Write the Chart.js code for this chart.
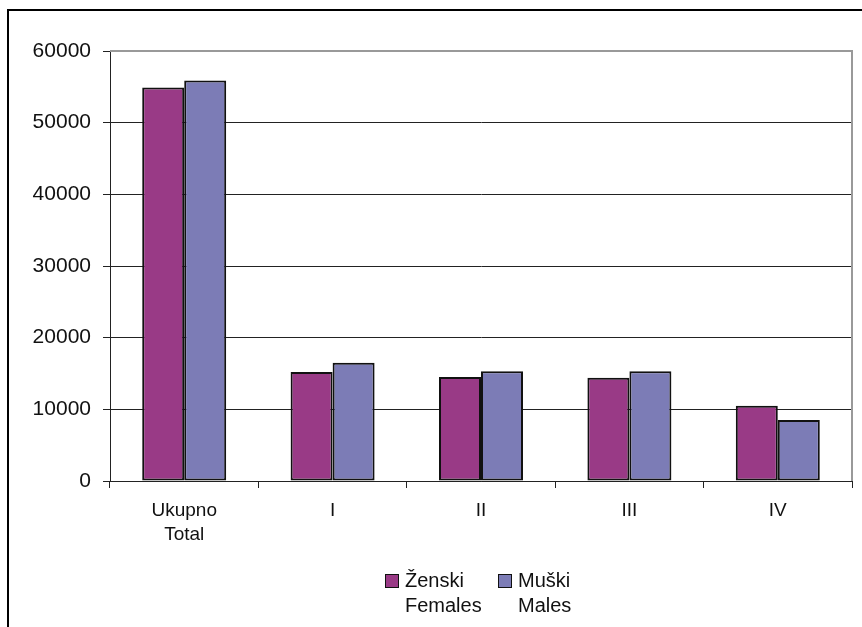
<!DOCTYPE html>
<html>
<head>
<meta charset="utf-8">
<script src="https://cdn.jsdelivr.net/npm/chart.js@4/dist/chart.umd.min.js"></script>
<style>
  html, body { margin: 0; padding: 0; background: #fff; }
  #wrap { position: relative; width: 862px; height: 627px; overflow: hidden; font-family: "Liberation Sans", Arial, sans-serif; }
  #frame { position: absolute; left: 7px; top: 9px; width: 860px; height: 700px; border-top: 2px solid #000; border-left: 2px solid #000; pointer-events: none; }
  canvas { position: absolute; left: 0; top: 0; }
  .leg { position: absolute; font-size: 20px; line-height: 25px; color: #111; }
  .sw { position: absolute; width: 12px; height: 12px; border: 1.5px solid #111; }
</style>
</head>
<body>
<div id="wrap">
  <canvas id="c" width="862" height="627"></canvas>
  <div id="frame"></div>
  <div id="legend"></div>
</div>
<script>
const categories = [["Ukupno", "Total"], "I", "II", "III", "IV"];
const femaleValues = [54900, 15200, 14500, 14400, 10500];
const maleValues = [55900, 16500, 15300, 15300, 8500];
const seriesNames = [["Ženski", "Females"], ["Muški", "Males"]];
const seriesColors = ["#993A86", "#7C7CB6"];
const yTicks = [0, 10000, 20000, 30000, 40000, 50000, 60000];

const borderPlugin = {
  id: 'plotBorder',
  afterDatasetsDraw(chart) {
    const { ctx, chartArea } = chart;
    ctx.save();
    ctx.strokeStyle = '#999';
    ctx.lineWidth = 2;
    ctx.beginPath();
    ctx.moveTo(chartArea.left, chartArea.top);
    ctx.lineTo(chartArea.right, chartArea.top);
    ctx.lineTo(chartArea.right, chartArea.bottom);
    ctx.stroke();
    ctx.restore();
  }
};

const chart = new Chart(document.getElementById('c'), {
  type: 'bar',
  data: {
    labels: categories,
    datasets: [
      { label: seriesNames[0].join(' '), data: femaleValues, backgroundColor: seriesColors[0], borderColor: '#111', borderWidth: 2, borderSkipped: false },
      { label: seriesNames[1].join(' '), data: maleValues, backgroundColor: seriesColors[1], borderColor: '#111', borderWidth: 2, borderSkipped: false }
    ]
  },
  options: {
    responsive: false,
    animation: false,
    devicePixelRatio: 1,
    layout: { padding: { top: 51, right: 10, left: 0, bottom: 0 } },
    plugins: { legend: { display: false }, tooltip: { enabled: false } },
    datasets: { bar: { categoryPercentage: 0.566, barPercentage: 1.0 } },
    scales: {
      x: {
        grid: { offset: true, drawOnChartArea: false, drawTicks: true, tickLength: 7, color: '#222', lineWidth: 1 },
        border: { color: '#222', width: 1 },
        ticks: { color: '#111', padding: 11, font: { family: '"Liberation Sans", Arial, sans-serif', size: 19, lineHeight: 1.25 } },
        afterFit: s => { s.height = 146; }
      },
      y: {
        min: 0, max: 60000,
        afterBuildTicks: s => { s.ticks = yTicks.map(v => ({ value: v })); },
        grid: { color: ctx => (ctx.tick && ctx.tick.value === 60000) ? '#999' : '#222', lineWidth: 1, tickLength: 7, tickColor: '#222' },
        border: { color: '#222', width: 1 },
        ticks: { color: '#111', padding: 12, font: { family: '"Liberation Sans", Arial, sans-serif', size: 21 }, callback: v => String(v) },
        afterFit: s => { s.width = 110; }
      }
    }
  },
  plugins: [borderPlugin]
});

// legend built from series names/colors
const legend = document.getElementById('legend');
const legendPos = [{ sw: 385, tx: 405 }, { sw: 498, tx: 518 }];
seriesNames.forEach((lines, i) => {
  const sw = document.createElement('div');
  sw.className = 'sw';
  sw.style.left = legendPos[i].sw + 'px';
  sw.style.top = '574px';
  sw.style.background = seriesColors[i];
  legend.appendChild(sw);
  const t = document.createElement('div');
  t.className = 'leg';
  t.style.left = legendPos[i].tx + 'px';
  t.style.top = '568px';
  t.innerHTML = lines.join('<br>');
  legend.appendChild(t);
});
</script>
</body>
</html>
